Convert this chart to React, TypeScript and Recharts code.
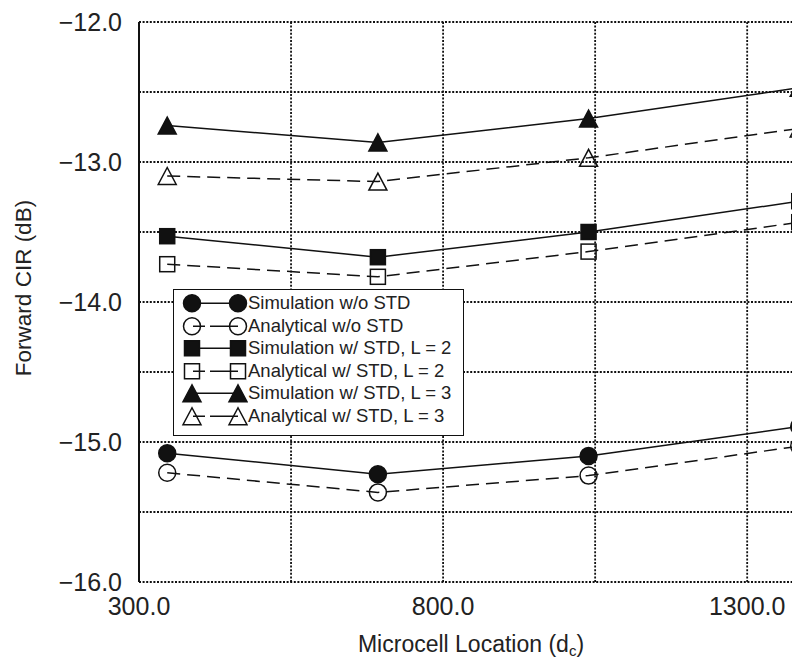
import React from "react";
import { LineChart, Line, XAxis, YAxis, CartesianGrid } from "recharts";

// microcell locations (d_c)
const locations = [346.4, 692.8, 1039.2, 1385.6];

// forward CIR (dB)
const simNoStd = [-15.08, -15.23, -15.1, -14.89];
const anaNoStd = [-15.22, -15.36, -15.24, -15.03];
const simStdL2 = [-13.53, -13.68, -13.5, -13.28];
const anaStdL2 = [-13.73, -13.82, -13.64, -13.43];
const simStdL3 = [-12.74, -12.86, -12.69, -12.47];
const anaStdL3 = [-13.1, -13.14, -12.97, -12.76];

const xTicks = [300, 550, 800, 1050, 1300];
const xLabelTicks = [300, 800, 1300];
const yTicks = [-16, -15.5, -15, -14.5, -14, -13.5, -13, -12.5, -12];

const data = locations.map((x, i) => ({
  x,
  simNoStd: simNoStd[i],
  anaNoStd: anaNoStd[i],
  simStdL2: simStdL2[i],
  anaStdL2: anaStdL2[i],
  simStdL3: simStdL3[i],
  anaStdL3: anaStdL3[i],
}));

const series = [
  { key: "simNoStd", name: "Simulation w/o STD", shape: "circle", filled: true },
  { key: "anaNoStd", name: "Analytical w/o STD", shape: "circle", filled: false },
  { key: "simStdL2", name: "Simulation w/ STD, L = 2", shape: "square", filled: true },
  { key: "anaStdL2", name: "Analytical w/ STD, L = 2", shape: "square", filled: false },
  { key: "simStdL3", name: "Simulation w/ STD, L = 3", shape: "triangle", filled: true },
  { key: "anaStdL3", name: "Analytical w/ STD, L = 3", shape: "triangle", filled: false },
];

const INK = "#111";
const FONT = "'Liberation Sans', Arial, sans-serif";

const fmt = (v: number) => v.toFixed(1).replace("-", "\u2212");

function Marker({ shape, filled, cx, cy }: any) {
  const fill = filled ? INK : "none";
  if (cx == null || cy == null) return null;
  if (shape === "circle")
    return <circle cx={cx} cy={cy} r={8.5} fill={fill} stroke={INK} strokeWidth={1.5} />;
  if (shape === "square")
    return <rect x={cx - 7.5} y={cy - 7.5} width={15} height={15} fill={fill} stroke={INK} strokeWidth={1.5} />;
  return (
    <polygon
      points={`${cx},${cy - 8.5} ${cx - 9},${cy + 8.5} ${cx + 9},${cy + 8.5}`}
      fill={fill}
      stroke={INK}
      strokeWidth={1.5}
    />
  );
}

const YTitle = () => (
  <text
    x={15}
    y={280}
    transform="rotate(-90 15 280)"
    textAnchor="middle"
    dominantBaseline="central"
    fontSize={22.5}
    fontFamily={FONT}
    fill="#222"
  >
    Forward CIR (dB)
  </text>
);

const XTitle = () => (
  <text x={463} y={644} textAnchor="middle" fontSize={23} fontFamily={FONT} fill="#222">
    Microcell Location (d
    <tspan fontSize={15} dy={4}>c</tspan>
    <tspan dy={-4}>)</tspan>
  </text>
);

function LegendBox() {
  return (
    <div
      style={{
        position: "absolute",
        left: 165,
        top: 281,
        width: 291,
        height: 147,
        boxSizing: "border-box",
        border: `1.5px solid ${INK}`,
        background: "#fff",
        paddingTop: 2,
        fontFamily: FONT,
        fontSize: 18.5,
        color: "#222",
      }}
    >
      {series.map((s) => (
        <div key={s.key} style={{ display: "flex", alignItems: "center", height: 22.5 }}>
          <svg width={74} height={22.5} style={{ flex: "none" }}>
            {s.filled ? (
              <line x1={19} y1={11.25} x2={64} y2={11.25} stroke={INK} strokeWidth={1.5} />
            ) : (
              <g>
                <line x1={19} y1={11.25} x2={31} y2={11.25} stroke={INK} strokeWidth={1.5} />
                <line x1={36} y1={11.25} x2={64} y2={11.25} stroke={INK} strokeWidth={1.5} />
              </g>
            )}
            <Marker shape={s.shape} filled={s.filled} cx={18} cy={11.25} />
            <Marker shape={s.shape} filled={s.filled} cx={64} cy={11.25} />
          </svg>
          <span style={{ whiteSpace: "nowrap" }}>{s.name}</span>
        </div>
      ))}
    </div>
  );
}

export default function App() {
  return (
    <div style={{ position: "relative", width: 792, height: 651, overflow: "hidden" }}>
      <LineChart
        width={820}
        height={651}
        data={data}
        margin={{ top: 14, right: 20, left: 0, bottom: 0 }}
      >
        <CartesianGrid stroke={INK} strokeWidth={1.8} strokeDasharray="2 1.6" />
        <XAxis
          dataKey="x"
          type="number"
          domain={[300, 1400]}
          ticks={xTicks}
          tickFormatter={(v: number) => (xLabelTicks.includes(v) ? fmt(v) : "")}
          height={77}
          axisLine={false}
          tickLine={false}
          tickSize={0}
          tickMargin={15}
          tick={{ fontSize: 25, fontFamily: FONT, fill: "#222" }}
          label={<XTitle />}
        />
        <YAxis
          type="number"
          domain={[-16, -12]}
          ticks={yTicks}
          tickFormatter={(v: number) => (Number.isInteger(v) ? fmt(v) : "")}
          width={131}
          axisLine={{ stroke: INK, strokeWidth: 2 }}
          tickLine={false}
          tickSize={0}
          tickMargin={17}
          tick={{ fontSize: 25, fontFamily: FONT, fill: "#222" }}
          label={<YTitle />}
        />
        {series.map((s) => (
          <Line
            key={s.key}
            dataKey={s.key}
            name={s.name}
            type="linear"
            stroke={INK}
            strokeWidth={1.5}
            strokeDasharray={s.filled ? undefined : "13 7"}
            isAnimationActive={false}
            activeDot={false}
            dot={(p: any) => (
              <Marker key={`${s.key}-${p.index}`} shape={s.shape} filled={s.filled} cx={p.cx} cy={p.cy} />
            )}
          />
        ))}
      </LineChart>
      <LegendBox />
    </div>
  );
}
